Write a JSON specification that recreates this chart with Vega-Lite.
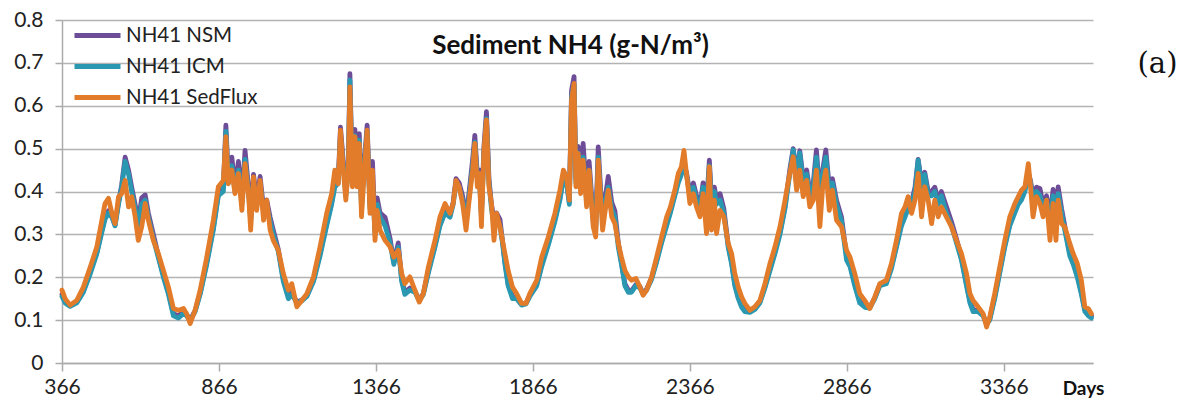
{
  "$schema": "https://vega.github.io/schema/vega-lite/v6.json",
  "width": 1031,
  "height": 343,
  "autosize": {"type": "none"},
  "padding": {"left": 62, "top": 20, "right": 89, "bottom": 41},
  "background": "white",
  "config": {
    "view": {"stroke": null},
    "font": "Lato",
    "axis": {"labelFont": "Lato", "titleFont": "Lato"},
    "legend": {"labelFont": "Lato"}
  },
  "datasets": {
    "nh4": [
      {"day": 366, "nsm": 0.160, "icm": 0.155, "sed": 0.170},
      {"day": 376, "nsm": 0.143, "icm": 0.140, "sed": 0.150},
      {"day": 392, "nsm": 0.134, "icm": 0.132, "sed": 0.135},
      {"day": 413, "nsm": 0.142, "icm": 0.140, "sed": 0.146},
      {"day": 434, "nsm": 0.168, "icm": 0.165, "sed": 0.177},
      {"day": 456, "nsm": 0.212, "icm": 0.208, "sed": 0.224},
      {"day": 477, "nsm": 0.258, "icm": 0.255, "sed": 0.271},
      {"day": 493, "nsm": 0.310, "icm": 0.305, "sed": 0.333},
      {"day": 503, "nsm": 0.340, "icm": 0.335, "sed": 0.372},
      {"day": 514, "nsm": 0.355, "icm": 0.350, "sed": 0.384},
      {"day": 525, "nsm": 0.342, "icm": 0.340, "sed": 0.349},
      {"day": 535, "nsm": 0.322, "icm": 0.320, "sed": 0.325},
      {"day": 546, "nsm": 0.375, "icm": 0.370, "sed": 0.388},
      {"day": 556, "nsm": 0.415, "icm": 0.410, "sed": 0.395},
      {"day": 567, "nsm": 0.480, "icm": 0.470, "sed": 0.426},
      {"day": 578, "nsm": 0.450, "icm": 0.440, "sed": 0.364},
      {"day": 588, "nsm": 0.410, "icm": 0.400, "sed": 0.388},
      {"day": 599, "nsm": 0.370, "icm": 0.360, "sed": 0.341},
      {"day": 609, "nsm": 0.330, "icm": 0.320, "sed": 0.286},
      {"day": 620, "nsm": 0.385, "icm": 0.370, "sed": 0.318},
      {"day": 631, "nsm": 0.392, "icm": 0.380, "sed": 0.372},
      {"day": 641, "nsm": 0.350, "icm": 0.340, "sed": 0.333},
      {"day": 657, "nsm": 0.300, "icm": 0.290, "sed": 0.286},
      {"day": 673, "nsm": 0.250, "icm": 0.245, "sed": 0.255},
      {"day": 689, "nsm": 0.205, "icm": 0.200, "sed": 0.216},
      {"day": 705, "nsm": 0.165, "icm": 0.160, "sed": 0.177},
      {"day": 721, "nsm": 0.115, "icm": 0.110, "sed": 0.127},
      {"day": 737, "nsm": 0.110, "icm": 0.105, "sed": 0.123},
      {"day": 753, "nsm": 0.120, "icm": 0.115, "sed": 0.127},
      {"day": 763, "nsm": 0.113, "icm": 0.110, "sed": 0.115},
      {"day": 774, "nsm": 0.100, "icm": 0.098, "sed": 0.092},
      {"day": 790, "nsm": 0.122, "icm": 0.120, "sed": 0.123},
      {"day": 806, "nsm": 0.163, "icm": 0.160, "sed": 0.170},
      {"day": 827, "nsm": 0.235, "icm": 0.230, "sed": 0.247},
      {"day": 848, "nsm": 0.315, "icm": 0.310, "sed": 0.333},
      {"day": 864, "nsm": 0.395, "icm": 0.390, "sed": 0.411},
      {"day": 880, "nsm": 0.410, "icm": 0.400, "sed": 0.426},
      {"day": 888, "nsm": 0.555, "icm": 0.540, "sed": 0.528},
      {"day": 896, "nsm": 0.430, "icm": 0.420, "sed": 0.418},
      {"day": 907, "nsm": 0.480, "icm": 0.460, "sed": 0.450},
      {"day": 917, "nsm": 0.410, "icm": 0.400, "sed": 0.395},
      {"day": 928, "nsm": 0.470, "icm": 0.450, "sed": 0.442},
      {"day": 939, "nsm": 0.380, "icm": 0.370, "sed": 0.356},
      {"day": 949, "nsm": 0.496, "icm": 0.475, "sed": 0.465},
      {"day": 960, "nsm": 0.410, "icm": 0.400, "sed": 0.395},
      {"day": 967, "nsm": 0.340, "icm": 0.330, "sed": 0.310},
      {"day": 976, "nsm": 0.440, "icm": 0.420, "sed": 0.434},
      {"day": 986, "nsm": 0.380, "icm": 0.370, "sed": 0.356},
      {"day": 997, "nsm": 0.435, "icm": 0.420, "sed": 0.426},
      {"day": 1008, "nsm": 0.360, "icm": 0.350, "sed": 0.333},
      {"day": 1018, "nsm": 0.380, "icm": 0.370, "sed": 0.380},
      {"day": 1029, "nsm": 0.340, "icm": 0.330, "sed": 0.310},
      {"day": 1039, "nsm": 0.310, "icm": 0.300, "sed": 0.286},
      {"day": 1055, "nsm": 0.265, "icm": 0.260, "sed": 0.263},
      {"day": 1071, "nsm": 0.195, "icm": 0.190, "sed": 0.209},
      {"day": 1087, "nsm": 0.155, "icm": 0.150, "sed": 0.170},
      {"day": 1098, "nsm": 0.165, "icm": 0.160, "sed": 0.185},
      {"day": 1114, "nsm": 0.142, "icm": 0.140, "sed": 0.131},
      {"day": 1130, "nsm": 0.147, "icm": 0.145, "sed": 0.146},
      {"day": 1146, "nsm": 0.158, "icm": 0.155, "sed": 0.162},
      {"day": 1167, "nsm": 0.193, "icm": 0.190, "sed": 0.201},
      {"day": 1188, "nsm": 0.255, "icm": 0.250, "sed": 0.271},
      {"day": 1209, "nsm": 0.325, "icm": 0.320, "sed": 0.349},
      {"day": 1225, "nsm": 0.375, "icm": 0.370, "sed": 0.395},
      {"day": 1235, "nsm": 0.420, "icm": 0.410, "sed": 0.450},
      {"day": 1246, "nsm": 0.430, "icm": 0.420, "sed": 0.418},
      {"day": 1253, "nsm": 0.550, "icm": 0.530, "sed": 0.543},
      {"day": 1262, "nsm": 0.470, "icm": 0.460, "sed": 0.450},
      {"day": 1270, "nsm": 0.400, "icm": 0.390, "sed": 0.380},
      {"day": 1278, "nsm": 0.460, "icm": 0.450, "sed": 0.450},
      {"day": 1283, "nsm": 0.675, "icm": 0.660, "sed": 0.644},
      {"day": 1291, "nsm": 0.430, "icm": 0.420, "sed": 0.411},
      {"day": 1299, "nsm": 0.545, "icm": 0.530, "sed": 0.528},
      {"day": 1306, "nsm": 0.430, "icm": 0.420, "sed": 0.411},
      {"day": 1313, "nsm": 0.535, "icm": 0.520, "sed": 0.512},
      {"day": 1320, "nsm": 0.370, "icm": 0.360, "sed": 0.341},
      {"day": 1329, "nsm": 0.470, "icm": 0.460, "sed": 0.450},
      {"day": 1338, "nsm": 0.555, "icm": 0.540, "sed": 0.543},
      {"day": 1347, "nsm": 0.370, "icm": 0.360, "sed": 0.349},
      {"day": 1355, "nsm": 0.470, "icm": 0.420, "sed": 0.450},
      {"day": 1363, "nsm": 0.310, "icm": 0.300, "sed": 0.286},
      {"day": 1370, "nsm": 0.385, "icm": 0.370, "sed": 0.356},
      {"day": 1379, "nsm": 0.350, "icm": 0.340, "sed": 0.310},
      {"day": 1395, "nsm": 0.340, "icm": 0.320, "sed": 0.286},
      {"day": 1411, "nsm": 0.290, "icm": 0.280, "sed": 0.271},
      {"day": 1423, "nsm": 0.235, "icm": 0.230, "sed": 0.247},
      {"day": 1437, "nsm": 0.280, "icm": 0.270, "sed": 0.263},
      {"day": 1448, "nsm": 0.195, "icm": 0.190, "sed": 0.209},
      {"day": 1458, "nsm": 0.165, "icm": 0.160, "sed": 0.185},
      {"day": 1474, "nsm": 0.175, "icm": 0.170, "sed": 0.201},
      {"day": 1490, "nsm": 0.168, "icm": 0.165, "sed": 0.170},
      {"day": 1504, "nsm": 0.147, "icm": 0.145, "sed": 0.142},
      {"day": 1517, "nsm": 0.162, "icm": 0.160, "sed": 0.162},
      {"day": 1533, "nsm": 0.215, "icm": 0.210, "sed": 0.224},
      {"day": 1554, "nsm": 0.275, "icm": 0.270, "sed": 0.286},
      {"day": 1570, "nsm": 0.325, "icm": 0.320, "sed": 0.341},
      {"day": 1586, "nsm": 0.355, "icm": 0.350, "sed": 0.372},
      {"day": 1602, "nsm": 0.345, "icm": 0.340, "sed": 0.349},
      {"day": 1612, "nsm": 0.375, "icm": 0.370, "sed": 0.372},
      {"day": 1621, "nsm": 0.430, "icm": 0.420, "sed": 0.426},
      {"day": 1631, "nsm": 0.420, "icm": 0.410, "sed": 0.411},
      {"day": 1642, "nsm": 0.390, "icm": 0.380, "sed": 0.372},
      {"day": 1653, "nsm": 0.340, "icm": 0.330, "sed": 0.310},
      {"day": 1663, "nsm": 0.400, "icm": 0.390, "sed": 0.380},
      {"day": 1674, "nsm": 0.475, "icm": 0.460, "sed": 0.450},
      {"day": 1681, "nsm": 0.531, "icm": 0.515, "sed": 0.512},
      {"day": 1689, "nsm": 0.440, "icm": 0.430, "sed": 0.411},
      {"day": 1695, "nsm": 0.450, "icm": 0.440, "sed": 0.442},
      {"day": 1702, "nsm": 0.350, "icm": 0.340, "sed": 0.318},
      {"day": 1710, "nsm": 0.505, "icm": 0.490, "sed": 0.496},
      {"day": 1718, "nsm": 0.586, "icm": 0.570, "sed": 0.567},
      {"day": 1726, "nsm": 0.430, "icm": 0.420, "sed": 0.411},
      {"day": 1734, "nsm": 0.370, "icm": 0.360, "sed": 0.372},
      {"day": 1742, "nsm": 0.335, "icm": 0.320, "sed": 0.286},
      {"day": 1750, "nsm": 0.350, "icm": 0.340, "sed": 0.349},
      {"day": 1761, "nsm": 0.335, "icm": 0.320, "sed": 0.318},
      {"day": 1769, "nsm": 0.285, "icm": 0.280, "sed": 0.286},
      {"day": 1777, "nsm": 0.235, "icm": 0.230, "sed": 0.255},
      {"day": 1787, "nsm": 0.185, "icm": 0.180, "sed": 0.216},
      {"day": 1801, "nsm": 0.155, "icm": 0.150, "sed": 0.177},
      {"day": 1814, "nsm": 0.152, "icm": 0.150, "sed": 0.162},
      {"day": 1830, "nsm": 0.137, "icm": 0.135, "sed": 0.139},
      {"day": 1844, "nsm": 0.140, "icm": 0.138, "sed": 0.139},
      {"day": 1856, "nsm": 0.158, "icm": 0.155, "sed": 0.162},
      {"day": 1878, "nsm": 0.183, "icm": 0.180, "sed": 0.193},
      {"day": 1894, "nsm": 0.230, "icm": 0.225, "sed": 0.247},
      {"day": 1915, "nsm": 0.280, "icm": 0.275, "sed": 0.294},
      {"day": 1936, "nsm": 0.335, "icm": 0.330, "sed": 0.349},
      {"day": 1952, "nsm": 0.385, "icm": 0.380, "sed": 0.403},
      {"day": 1963, "nsm": 0.435, "icm": 0.430, "sed": 0.450},
      {"day": 1973, "nsm": 0.425, "icm": 0.420, "sed": 0.434},
      {"day": 1982, "nsm": 0.375, "icm": 0.370, "sed": 0.380},
      {"day": 1989, "nsm": 0.635, "icm": 0.620, "sed": 0.613},
      {"day": 1997, "nsm": 0.668, "icm": 0.650, "sed": 0.652},
      {"day": 2003, "nsm": 0.430, "icm": 0.420, "sed": 0.411},
      {"day": 2010, "nsm": 0.505, "icm": 0.490, "sed": 0.489},
      {"day": 2018, "nsm": 0.420, "icm": 0.410, "sed": 0.395},
      {"day": 2026, "nsm": 0.512, "icm": 0.480, "sed": 0.473},
      {"day": 2037, "nsm": 0.390, "icm": 0.380, "sed": 0.364},
      {"day": 2045, "nsm": 0.470, "icm": 0.450, "sed": 0.450},
      {"day": 2058, "nsm": 0.340, "icm": 0.330, "sed": 0.318},
      {"day": 2066, "nsm": 0.320, "icm": 0.310, "sed": 0.294},
      {"day": 2074, "nsm": 0.504, "icm": 0.480, "sed": 0.473},
      {"day": 2082, "nsm": 0.400, "icm": 0.390, "sed": 0.380},
      {"day": 2088, "nsm": 0.350, "icm": 0.340, "sed": 0.310},
      {"day": 2095, "nsm": 0.380, "icm": 0.370, "sed": 0.349},
      {"day": 2106, "nsm": 0.435, "icm": 0.410, "sed": 0.403},
      {"day": 2117, "nsm": 0.375, "icm": 0.360, "sed": 0.341},
      {"day": 2127, "nsm": 0.355, "icm": 0.340, "sed": 0.325},
      {"day": 2138, "nsm": 0.280, "icm": 0.270, "sed": 0.279},
      {"day": 2148, "nsm": 0.235, "icm": 0.230, "sed": 0.247},
      {"day": 2159, "nsm": 0.185, "icm": 0.180, "sed": 0.216},
      {"day": 2170, "nsm": 0.170, "icm": 0.165, "sed": 0.201},
      {"day": 2180, "nsm": 0.168, "icm": 0.165, "sed": 0.193},
      {"day": 2194, "nsm": 0.183, "icm": 0.180, "sed": 0.197},
      {"day": 2207, "nsm": 0.178, "icm": 0.175, "sed": 0.177},
      {"day": 2217, "nsm": 0.162, "icm": 0.160, "sed": 0.158},
      {"day": 2228, "nsm": 0.172, "icm": 0.170, "sed": 0.170},
      {"day": 2244, "nsm": 0.198, "icm": 0.195, "sed": 0.201},
      {"day": 2260, "nsm": 0.240, "icm": 0.235, "sed": 0.247},
      {"day": 2276, "nsm": 0.285, "icm": 0.280, "sed": 0.294},
      {"day": 2292, "nsm": 0.325, "icm": 0.320, "sed": 0.341},
      {"day": 2304, "nsm": 0.355, "icm": 0.350, "sed": 0.364},
      {"day": 2318, "nsm": 0.395, "icm": 0.390, "sed": 0.403},
      {"day": 2329, "nsm": 0.425, "icm": 0.420, "sed": 0.442},
      {"day": 2339, "nsm": 0.445, "icm": 0.440, "sed": 0.458},
      {"day": 2347, "nsm": 0.460, "icm": 0.450, "sed": 0.496},
      {"day": 2355, "nsm": 0.445, "icm": 0.440, "sed": 0.442},
      {"day": 2366, "nsm": 0.395, "icm": 0.390, "sed": 0.372},
      {"day": 2377, "nsm": 0.420, "icm": 0.410, "sed": 0.395},
      {"day": 2387, "nsm": 0.390, "icm": 0.380, "sed": 0.364},
      {"day": 2398, "nsm": 0.365, "icm": 0.360, "sed": 0.341},
      {"day": 2408, "nsm": 0.420, "icm": 0.410, "sed": 0.395},
      {"day": 2419, "nsm": 0.370, "icm": 0.360, "sed": 0.302},
      {"day": 2428, "nsm": 0.473, "icm": 0.460, "sed": 0.458},
      {"day": 2435, "nsm": 0.380, "icm": 0.370, "sed": 0.310},
      {"day": 2444, "nsm": 0.410, "icm": 0.400, "sed": 0.380},
      {"day": 2451, "nsm": 0.380, "icm": 0.370, "sed": 0.302},
      {"day": 2462, "nsm": 0.395, "icm": 0.380, "sed": 0.356},
      {"day": 2474, "nsm": 0.360, "icm": 0.350, "sed": 0.341},
      {"day": 2488, "nsm": 0.275, "icm": 0.270, "sed": 0.279},
      {"day": 2499, "nsm": 0.235, "icm": 0.230, "sed": 0.255},
      {"day": 2509, "nsm": 0.185, "icm": 0.180, "sed": 0.209},
      {"day": 2520, "nsm": 0.155, "icm": 0.150, "sed": 0.177},
      {"day": 2531, "nsm": 0.135, "icm": 0.130, "sed": 0.154},
      {"day": 2541, "nsm": 0.125, "icm": 0.120, "sed": 0.139},
      {"day": 2557, "nsm": 0.120, "icm": 0.118, "sed": 0.123},
      {"day": 2573, "nsm": 0.128, "icm": 0.125, "sed": 0.131},
      {"day": 2589, "nsm": 0.143, "icm": 0.140, "sed": 0.146},
      {"day": 2605, "nsm": 0.178, "icm": 0.175, "sed": 0.185},
      {"day": 2621, "nsm": 0.220, "icm": 0.215, "sed": 0.232},
      {"day": 2637, "nsm": 0.260, "icm": 0.255, "sed": 0.271},
      {"day": 2653, "nsm": 0.305, "icm": 0.300, "sed": 0.318},
      {"day": 2669, "nsm": 0.365, "icm": 0.360, "sed": 0.380},
      {"day": 2684, "nsm": 0.450, "icm": 0.440, "sed": 0.442},
      {"day": 2695, "nsm": 0.500, "icm": 0.497, "sed": 0.481},
      {"day": 2706, "nsm": 0.440, "icm": 0.430, "sed": 0.403},
      {"day": 2716, "nsm": 0.495, "icm": 0.490, "sed": 0.450},
      {"day": 2727, "nsm": 0.430, "icm": 0.420, "sed": 0.388},
      {"day": 2738, "nsm": 0.450, "icm": 0.440, "sed": 0.426},
      {"day": 2748, "nsm": 0.400, "icm": 0.390, "sed": 0.364},
      {"day": 2759, "nsm": 0.420, "icm": 0.410, "sed": 0.380},
      {"day": 2769, "nsm": 0.497, "icm": 0.480, "sed": 0.450},
      {"day": 2780, "nsm": 0.390, "icm": 0.380, "sed": 0.318},
      {"day": 2789, "nsm": 0.450, "icm": 0.440, "sed": 0.411},
      {"day": 2799, "nsm": 0.497, "icm": 0.480, "sed": 0.450},
      {"day": 2810, "nsm": 0.410, "icm": 0.400, "sed": 0.356},
      {"day": 2820, "nsm": 0.430, "icm": 0.420, "sed": 0.403},
      {"day": 2833, "nsm": 0.380, "icm": 0.370, "sed": 0.333},
      {"day": 2849, "nsm": 0.340, "icm": 0.330, "sed": 0.318},
      {"day": 2865, "nsm": 0.250, "icm": 0.240, "sed": 0.263},
      {"day": 2876, "nsm": 0.230, "icm": 0.225, "sed": 0.247},
      {"day": 2891, "nsm": 0.185, "icm": 0.180, "sed": 0.209},
      {"day": 2907, "nsm": 0.145, "icm": 0.140, "sed": 0.162},
      {"day": 2923, "nsm": 0.133, "icm": 0.130, "sed": 0.146},
      {"day": 2939, "nsm": 0.130, "icm": 0.128, "sed": 0.127},
      {"day": 2955, "nsm": 0.152, "icm": 0.150, "sed": 0.154},
      {"day": 2971, "nsm": 0.183, "icm": 0.180, "sed": 0.185},
      {"day": 2992, "nsm": 0.188, "icm": 0.185, "sed": 0.193},
      {"day": 3008, "nsm": 0.225, "icm": 0.220, "sed": 0.232},
      {"day": 3024, "nsm": 0.275, "icm": 0.270, "sed": 0.286},
      {"day": 3040, "nsm": 0.325, "icm": 0.320, "sed": 0.349},
      {"day": 3051, "nsm": 0.345, "icm": 0.340, "sed": 0.364},
      {"day": 3061, "nsm": 0.365, "icm": 0.360, "sed": 0.388},
      {"day": 3072, "nsm": 0.375, "icm": 0.370, "sed": 0.349},
      {"day": 3083, "nsm": 0.410, "icm": 0.400, "sed": 0.380},
      {"day": 3093, "nsm": 0.475, "icm": 0.473, "sed": 0.442},
      {"day": 3104, "nsm": 0.420, "icm": 0.410, "sed": 0.341},
      {"day": 3114, "nsm": 0.445, "icm": 0.440, "sed": 0.411},
      {"day": 3125, "nsm": 0.400, "icm": 0.390, "sed": 0.380},
      {"day": 3136, "nsm": 0.400, "icm": 0.390, "sed": 0.325},
      {"day": 3146, "nsm": 0.410, "icm": 0.400, "sed": 0.380},
      {"day": 3157, "nsm": 0.380, "icm": 0.370, "sed": 0.341},
      {"day": 3167, "nsm": 0.400, "icm": 0.390, "sed": 0.364},
      {"day": 3183, "nsm": 0.365, "icm": 0.350, "sed": 0.341},
      {"day": 3199, "nsm": 0.330, "icm": 0.320, "sed": 0.318},
      {"day": 3215, "nsm": 0.290, "icm": 0.280, "sed": 0.286},
      {"day": 3231, "nsm": 0.245, "icm": 0.240, "sed": 0.255},
      {"day": 3247, "nsm": 0.185, "icm": 0.180, "sed": 0.209},
      {"day": 3258, "nsm": 0.145, "icm": 0.140, "sed": 0.162},
      {"day": 3268, "nsm": 0.125, "icm": 0.120, "sed": 0.146},
      {"day": 3284, "nsm": 0.123, "icm": 0.120, "sed": 0.131},
      {"day": 3300, "nsm": 0.112, "icm": 0.110, "sed": 0.115},
      {"day": 3311, "nsm": 0.092, "icm": 0.090, "sed": 0.084},
      {"day": 3321, "nsm": 0.102, "icm": 0.100, "sed": 0.107},
      {"day": 3337, "nsm": 0.155, "icm": 0.150, "sed": 0.162},
      {"day": 3353, "nsm": 0.215, "icm": 0.210, "sed": 0.224},
      {"day": 3369, "nsm": 0.275, "icm": 0.270, "sed": 0.286},
      {"day": 3385, "nsm": 0.325, "icm": 0.320, "sed": 0.341},
      {"day": 3401, "nsm": 0.355, "icm": 0.350, "sed": 0.372},
      {"day": 3412, "nsm": 0.375, "icm": 0.370, "sed": 0.388},
      {"day": 3422, "nsm": 0.385, "icm": 0.380, "sed": 0.403},
      {"day": 3433, "nsm": 0.405, "icm": 0.400, "sed": 0.411},
      {"day": 3444, "nsm": 0.445, "icm": 0.440, "sed": 0.465},
      {"day": 3451, "nsm": 0.425, "icm": 0.420, "sed": 0.411},
      {"day": 3459, "nsm": 0.390, "icm": 0.380, "sed": 0.341},
      {"day": 3470, "nsm": 0.410, "icm": 0.400, "sed": 0.388},
      {"day": 3481, "nsm": 0.407, "icm": 0.390, "sed": 0.372},
      {"day": 3491, "nsm": 0.370, "icm": 0.360, "sed": 0.341},
      {"day": 3502, "nsm": 0.390, "icm": 0.380, "sed": 0.380},
      {"day": 3513, "nsm": 0.340, "icm": 0.330, "sed": 0.286},
      {"day": 3523, "nsm": 0.405, "icm": 0.390, "sed": 0.372},
      {"day": 3532, "nsm": 0.330, "icm": 0.320, "sed": 0.286},
      {"day": 3539, "nsm": 0.411, "icm": 0.395, "sed": 0.380},
      {"day": 3550, "nsm": 0.360, "icm": 0.350, "sed": 0.325},
      {"day": 3560, "nsm": 0.320, "icm": 0.310, "sed": 0.318},
      {"day": 3576, "nsm": 0.255, "icm": 0.250, "sed": 0.279},
      {"day": 3587, "nsm": 0.235, "icm": 0.230, "sed": 0.255},
      {"day": 3600, "nsm": 0.205, "icm": 0.200, "sed": 0.232},
      {"day": 3613, "nsm": 0.165, "icm": 0.160, "sed": 0.193},
      {"day": 3624, "nsm": 0.125, "icm": 0.120, "sed": 0.131},
      {"day": 3635, "nsm": 0.115, "icm": 0.110, "sed": 0.127},
      {"day": 3645, "nsm": 0.110, "icm": 0.105, "sed": 0.115}
    ]
  },
  "data": {"name": "nh4"},
  "layer": [
    {
      "mark": {"type": "line", "strokeWidth": 4.8, "strokeJoin": "round", "strokeCap": "round"},
      "encoding": {
        "x": {
          "field": "day", "type": "quantitative",
          "scale": {"domain": [366, 3650], "nice": false, "zero": false},
          "axis": {
            "orient": "bottom",
            "values": [366, 866, 1366, 1866, 2366, 2866, 3366],
            "format": "d",
            "grid": false,
            "domainColor": "#ababab", "domainWidth": 1.5,
            "tickColor": "#ababab", "tickWidth": 1.5, "tickSize": 8,
            "labelFontSize": 21, "labelColor": "#222222", "labelPadding": 5,
            "labelFlush": false,
            "title": "Days",
            "titleFontSize": 19, "titleFontWeight": "bold", "titleColor": "#111111",
            "titleX": 1021, "titleY": 25, "titleAlign": "center", "titleBaseline": "middle"
          }
        },
        "y": {
          "field": "nsm", "type": "quantitative",
          "scale": {"domain": [0, 0.8], "nice": false},
          "axis": {
            "orient": "left",
            "values": [0, 0.1, 0.2, 0.3, 0.4, 0.5, 0.6, 0.7, 0.8],
            "format": ".1~f",
            "grid": true, "gridColor": "#b3b3b3", "gridWidth": 1.5,
            "domainColor": "#ababab", "domainWidth": 1.5,
            "tickColor": "#ababab", "tickWidth": 1.5, "tickSize": 7,
            "labelFontSize": 21, "labelColor": "#222222", "labelPadding": 12,
            "title": null
          }
        },
        "color": {
          "datum": "NH41 NSM", "type": "nominal",
          "scale": {
            "domain": ["NH41 NSM", "NH41 ICM", "NH41 SedFlux"],
            "range": ["#6E4D98", "#2B98B2", "#E27C2A"]
          },
          "legend": {
            "orient": "none", "legendX": 23, "legendY": 3,
            "title": null, "padding": 0,
            "symbolType": "M-2.3,0H2.3", "symbolSize": 400,
            "symbolStrokeWidth": 5, "symbolFillColor": "transparent",
            "labelFontSize": 20.5, "labelColor": "#222222", "labelOffset": 16,
            "rowPadding": 8
          }
        }
      }
    },
    {
      "mark": {"type": "line", "strokeWidth": 4.8, "strokeJoin": "round", "strokeCap": "round"},
      "encoding": {
        "x": {"field": "day", "type": "quantitative", "axis": null},
        "y": {"field": "icm", "type": "quantitative", "axis": null},
        "color": {"datum": "NH41 ICM", "type": "nominal"}
      }
    },
    {
      "mark": {"type": "line", "strokeWidth": 4.8, "strokeJoin": "round", "strokeCap": "round"},
      "encoding": {
        "x": {
          "field": "day", "type": "quantitative",
          "axis": {
            "orient": "top", "domain": false, "ticks": false, "labels": false, "grid": false,
            "title": "Sediment NH4 (g-N/m³)",
            "titleFontSize": 26, "titleFontWeight": "bold", "titleColor": "#111111",
            "titleX": 508, "titleY": 25, "titleAlign": "center", "titleBaseline": "middle"
          }
        },
        "y": {
          "field": "sed", "type": "quantitative",
          "axis": {
            "orient": "right", "domain": false, "ticks": false, "labels": false, "grid": false,
            "title": "(a)", "titleAngle": 0,
            "titleFont": "DejaVu Serif", "titleFontSize": 29, "titleFontWeight": "normal", "titleColor": "#111111",
            "titleX": 64, "titleY": 43, "titleAlign": "center", "titleBaseline": "middle"
          }
        },
        "color": {"datum": "NH41 SedFlux", "type": "nominal"}
      }
    }
  ],
  "resolve": {"axis": {"x": "independent", "y": "independent"}}
}
